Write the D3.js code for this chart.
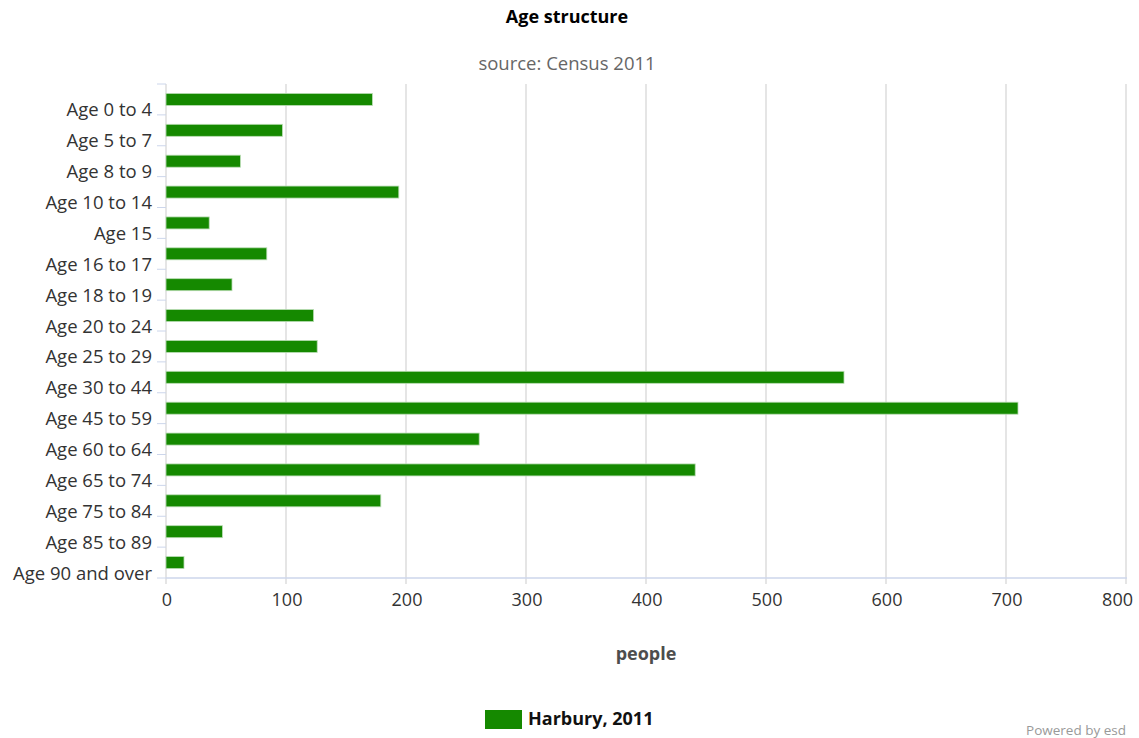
<!DOCTYPE html>
<html>
<head>
<meta charset="utf-8">
<script src="https://cdn.jsdelivr.net/npm/d3@7"></script>
<style>
  body { margin: 0; background: #fff; }
  svg { font-family: "Open Sans", "DejaVu Sans", sans-serif; }
</style>
</head>
<body>
<svg id="chart" width="1139" height="738"></svg>
<script>
// age bands from the census table
var categories = ["Age 0 to 4", "Age 5 to 7", "Age 8 to 9", "Age 10 to 14", "Age 15",
  "Age 16 to 17", "Age 18 to 19", "Age 20 to 24", "Age 25 to 29", "Age 30 to 44",
  "Age 45 to 59", "Age 60 to 64", "Age 65 to 74", "Age 75 to 84", "Age 85 to 89",
  "Age 90 and over"];
var people = [172, 97, 62, 194, 36, 84, 55, 123, 126, 565, 710, 261, 441, 179, 47, 15];
var xTicks = [0, 100, 200, 300, 400, 500, 600, 700, 800];
var seriesName = "Harbury, 2011";

var svg = d3.select("#chart");
var plotLeft = 166, plotRight = 1126, plotTop = 84, plotBottom = 578;
var green = "#158900";

var x = d3.scaleLinear().domain([0, 800]).range([plotLeft, plotRight]);
var y = d3.scaleBand().domain(categories).range([plotTop, plotBottom]);

// titles
svg.append("text").attr("x", 567).attr("y", 23).attr("text-anchor", "middle")
  .style("font-size", "18px").style("font-weight", "bold").attr("fill", "#000")
  .text("Age structure");
svg.append("text").attr("x", 567).attr("y", 70).attr("text-anchor", "middle")
  .style("font-size", "18.5px").attr("fill", "#666")
  .text("source: Census 2011");

// grid lines + x ticks
svg.append("g").selectAll("line").data(xTicks).enter().append("line")
  .attr("x1", d => x(d)).attr("x2", d => x(d))
  .attr("y1", plotTop).attr("y2", plotBottom + 6)
  .attr("stroke", "#dcdcdc").attr("stroke-width", 1.5);

// bottom axis line
svg.append("line").attr("x1", plotLeft).attr("x2", plotRight + 1)
  .attr("y1", plotBottom).attr("y2", plotBottom)
  .attr("stroke", "#ccd6eb").attr("stroke-width", 1.5);

// y axis ticks at band edges
var edges = categories.map(c => y(c)).concat([plotBottom]);
svg.append("g").selectAll("line").data(edges).enter().append("line")
  .attr("x1", plotLeft - 9).attr("x2", plotLeft)
  .attr("y1", d => d).attr("y2", d => d)
  .attr("stroke", "#ccd6eb").attr("stroke-width", 1);

// bars
svg.append("g").selectAll("rect").data(people).enter().append("rect")
  .attr("x", x(0))
  .attr("y", (d, i) => y(categories[i]) + y.bandwidth() / 2 - 6)
  .attr("width", d => x(d) - x(0))
  .attr("height", 12)
  .attr("fill", green)
  .attr("stroke", "#b9dcb3").attr("stroke-width", 0.8);

// category labels
svg.append("g").selectAll("text").data(categories).enter().append("text")
  .attr("x", plotLeft - 14)
  .attr("y", d => y(d) + y.bandwidth() / 2 + 17)
  .attr("text-anchor", "end")
  .style("font-size", "18.5px").attr("fill", "#333")
  .text(d => d);

// x tick labels (last one pulled inside like highcharts does)
svg.append("g").selectAll("text").data(xTicks).enter().append("text")
  .attr("x", (d, i) => i == xTicks.length - 1 ? x(d) + 7 : x(d) + 1)
  .attr("y", 606)
  .attr("text-anchor", (d, i) => i == xTicks.length - 1 ? "end" : "middle")
  .style("font-size", "18px").attr("fill", "#333")
  .text(d => d);

svg.append("text").attr("x", (plotLeft + plotRight) / 2).attr("y", 660)
  .attr("text-anchor", "middle")
  .style("font-size", "18px").style("font-weight", "bold").attr("fill", "#4d4d4d")
  .text("people");

// legend
svg.append("rect").attr("x", 485).attr("y", 710).attr("width", 37).attr("height", 19)
  .attr("fill", green);
svg.append("text").attr("x", 528).attr("y", 725)
  .style("font-size", "18px").style("font-weight", "bold").attr("fill", "#111")
  .text(seriesName);

svg.append("text").attr("x", 1126).attr("y", 735).attr("text-anchor", "end")
  .style("font-size", "13.5px").attr("fill", "#999")
  .text("Powered by esd");
</script>
</body>
</html>
